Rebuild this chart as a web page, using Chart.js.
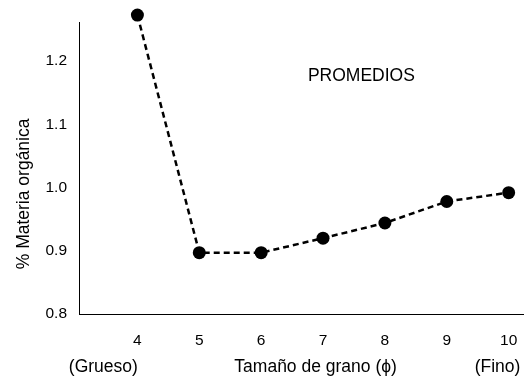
<!DOCTYPE html>
<html>
<head>
<meta charset="utf-8">
<script src="https://cdn.jsdelivr.net/npm/chart.js@4"></script>
<style>
  html, body { margin: 0; padding: 0; background: #fff; }
  .box { width: 530px; height: 379px; }
</style>
</head>
<body>
<div class="box"><canvas id="chart"></canvas></div>
<script>
// grain size (phi) and mean organic matter (%)
const grainSize = [4, 5, 6, 7, 8, 9, 10];
const organicMatter = [1.273, 0.897, 0.897, 0.920, 0.944, 0.978, 0.992];
const xTicks = [4, 5, 6, 7, 8, 9, 10];
const yTicks = [0.8, 0.9, 1.0, 1.1, 1.2];

const font = "'Liberation Sans', Arial, sans-serif";

// the first point sits above the axis top, chart.js skips it, so draw it again
const overflowPoint = {
  id: "overflowPoint",
  afterDatasetsDraw(chart) {
    const pt = chart.getDatasetMeta(0).data[0];
    if (pt) pt.draw(chart.ctx, { left: 0, top: 0, right: chart.width, bottom: chart.height });
  }
};

// extra labels drawn on the canvas
const notes = {
  id: "notes",
  afterDraw(chart) {
    const { ctx, chartArea, scales } = chart;
    ctx.save();
    ctx.fillStyle = "#000";
    ctx.font = "17.5px " + font;
    ctx.textBaseline = "middle";
    ctx.textAlign = "center";
    ctx.fillText("PROMEDIOS", scales.x.getPixelForValue(7.62), scales.y.getPixelForValue(1.177));
    const yb = chartArea.bottom + 53;
    ctx.fillText("(Grueso)", scales.x.getPixelForValue(3.45), yb);
    ctx.fillText("Tamaño de grano (\u03D5)", scales.x.getPixelForValue(6.88), yb);
    ctx.fillText("(Fino)", scales.x.getPixelForValue(9.82), yb);
    ctx.translate(24, scales.y.getPixelForValue(0.99));
    ctx.rotate(-Math.PI / 2);
    ctx.fillText("% Materia orgánica", 0, 0);
    ctx.restore();
  }
};

new Chart(document.getElementById("chart"), {
  type: "line",
  data: {
    datasets: [{
      data: grainSize.map((x, i) => ({ x, y: organicMatter[i] })),
      borderColor: "#000",
      borderWidth: 2.5,
      borderDash: [6, 4],
      pointRadius: 6.5,
      pointBackgroundColor: "#000",
      pointBorderColor: "#000",
      pointBorderWidth: 0,
      fill: false,
      tension: 0,
      clip: false
    }]
  },
  options: {
    responsive: true,
    maintainAspectRatio: false,
    animation: false,
    layout: { padding: { top: 22, right: 0, bottom: 0, left: 0 } },
    plugins: { legend: { display: false }, tooltip: { enabled: false } },
    scales: {
      x: {
        type: "linear",
        min: 3.056,
        max: 10.24,
        grid: { display: false },
        border: { color: "#000", width: 1 },
        afterBuildTicks: (s) => { s.ticks = xTicks.map((v) => ({ value: v })); },
        afterFit: (s) => { s.height = 65; },
        ticks: { color: "#000", font: { family: font, size: 15.5 }, padding: 9, maxRotation: 0 }
      },
      y: {
        min: 0.8,
        max: 1.262,
        grid: { display: false },
        border: { color: "#000", width: 1 },
        afterBuildTicks: (s) => { s.ticks = yTicks.map((v) => ({ value: v })); },
        afterFit: (s) => { s.width = 79; },
        ticks: { color: "#000", font: { family: font, size: 15.5 }, padding: 4, callback: (v) => v.toFixed(1) }
      }
    }
  },
  plugins: [overflowPoint, notes]
});
</script>
</body>
</html>
